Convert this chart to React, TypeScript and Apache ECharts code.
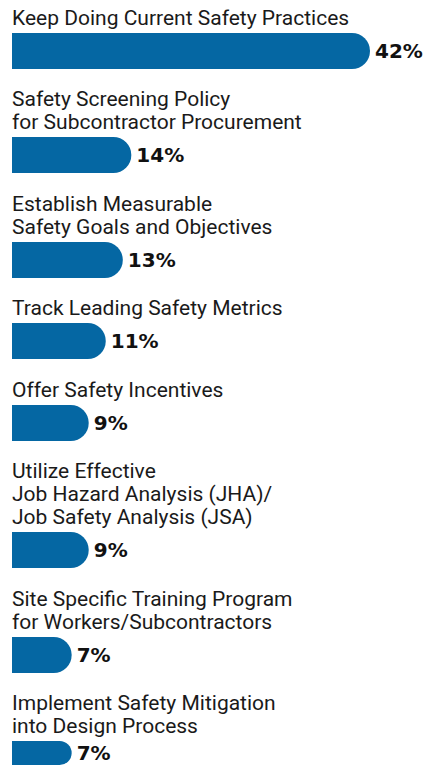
import React, { useEffect, useRef } from "react";
import * as echarts from "echarts";

const categories = [
  "Keep Doing Current Safety Practices",
  "Safety Screening Policy\nfor Subcontractor Procurement",
  "Establish Measurable\nSafety Goals and Objectives",
  "Track Leading Safety Metrics",
  "Offer Safety Incentives",
  "Utilize Effective\nJob Hazard Analysis (JHA)/\nJob Safety Analysis (JSA)",
  "Site Specific Training Program\nfor Workers/Subcontractors",
  "Implement Safety Mitigation\ninto Design Process",
];
const values = [42, 14, 13, 11, 9, 9, 7, 7];

const BAR_COLOR = "#0567a3";
const TEXT_COLOR = "#1a1a1a";

export default function App() {
  const ref = useRef<HTMLDivElement>(null);
  useEffect(() => {
    if (!ref.current) return;
    const chart = echarts.init(ref.current, null, { renderer: "svg" });
    const firstTop = 33;
    const barH = 36;
    const lineH = 22.8;
    const grids: any[] = [];
    const xAxes: any[] = [];
    const yAxes: any[] = [];
    const series: any[] = [];
    let top = firstTop;
    categories.forEach((cat, i) => {
      if (i > 0) {
        const lines = cat.split("\n").length;
        top += barH + lineH * (lines + 1);
      }
      grids.push({ left: 12, top: Math.round(top), width: 358, height: barH, containLabel: false });
      xAxes.push({ type: "value", gridIndex: i, min: 0, max: 42, show: false });
      yAxes.push({
        type: "category",
        gridIndex: i,
        data: [cat],
        axisLine: { show: false },
        axisTick: { show: false },
        axisLabel: { show: false },
        splitLine: { show: false },
        name: cat,
        nameLocation: "end",
        nameGap: 4,
        nameTextStyle: {
          align: "left",
          verticalAlign: "bottom",
          fontFamily: "Roboto, sans-serif",
          fontSize: 21,
          lineHeight: lineH,
          color: TEXT_COLOR,
        },
      });
      series.push({
        type: "bar",
        xAxisIndex: i,
        yAxisIndex: i,
        data: [values[i]],
        barWidth: barH,
        itemStyle: { color: BAR_COLOR, borderRadius: [0, barH / 2, barH / 2, 0] },
        label: {
          show: true,
          position: "right",
          distance: 5,
          formatter: "{c}%",
          fontFamily: "DejaVu Sans, sans-serif",
          fontWeight: "bold",
          fontSize: 20,
          color: "#111111",
        },
      });
    });
    chart.setOption({
      animation: false,
      backgroundColor: "#ffffff",
      grid: grids,
      xAxis: xAxes,
      yAxis: yAxes,
      series,
    });
    return () => chart.dispose();
  }, []);
  return (
    <div
      ref={ref}
      style={{ position: "fixed", left: 0, top: 0, width: 427, height: 765 }}
    />
  );
}
